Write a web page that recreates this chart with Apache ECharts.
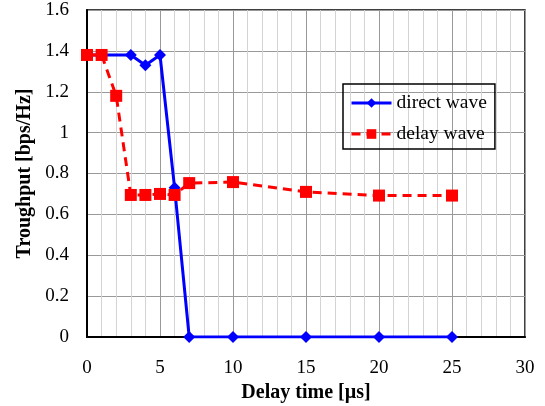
<!DOCTYPE html>
<html><head><meta charset="utf-8">
<script src="https://cdn.jsdelivr.net/npm/echarts@6/dist/echarts.min.js"></script>
<style>html,body{margin:0;padding:0;background:#fff}#c{width:545px;height:406px}</style>
</head><body><div id="c"></div>
<script>
var directX = [0, 1, 3, 4, 5, 6, 7, 10, 15, 20, 25];
var directY = [1.38, 1.38, 1.38, 1.33, 1.38, 0.73, 0, 0, 0, 0, 0];
var delayX = [0, 1, 2, 3, 4, 5, 6, 7, 10, 15, 20, 25];
var delayY = [1.38, 1.38, 1.18, 0.695, 0.695, 0.70, 0.695, 0.753, 0.758, 0.71, 0.692, 0.692];
var seriesNames = ['direct wave', 'delay wave'];

function pairs(xs, ys) { return xs.map(function (x, i) { return [x, ys[i]]; }); }
var font = 'Liberation Serif';
var chart = echarts.init(document.getElementById('c'));
chart.setOption({
  animation: false,
  grid: { left: 87, right: 20, top: 10, bottom: 69, outerBoundsMode: 'none', containLabel: false,
          show: true, borderColor: '#000', borderWidth: 1.5, backgroundColor: 'transparent' },
  legend: {
    left: 343, top: 84, orient: 'vertical', itemGap: 11,
    borderColor: '#000', borderWidth: 1.5, padding: [9, 8, 5, 7],
    itemWidth: 40, itemHeight: 12,
    lineStyle: { width: 3 },
    textStyle: { fontFamily: font, fontSize: 19.5, color: '#000' },
    data: seriesNames
  },
  xAxis: {
    type: 'value', min: 0, max: 30, interval: 5,
    name: 'Delay time [µs]', nameLocation: 'middle', nameGap: 38,
    nameTextStyle: { fontFamily: font, fontSize: 20, fontWeight: 'bold', color: '#000' },
    axisLine: { show: true, lineStyle: { color: '#000', width: 2 } },
    axisTick: { show: false },
    axisLabel: { fontFamily: font, fontSize: 19, color: '#000', margin: 22 },
    splitLine: { show: true, lineStyle: { color: '#999', width: 1 } },
    minorTick: { show: false, splitNumber: 5 },
    minorSplitLine: { show: true, lineStyle: { color: '#d4d4d4', width: 1 } }
  },
  yAxis: {
    type: 'value', min: 0, max: 1.6, interval: 0.2,
    name: 'Troughput [bps/Hz]', nameLocation: 'middle', nameGap: 51,
    nameTextStyle: { fontFamily: font, fontSize: 20, fontWeight: 'bold', color: '#000' },
    axisLine: { show: true, lineStyle: { color: '#000', width: 2 } },
    axisTick: { show: false },
    axisLabel: { fontFamily: font, fontSize: 19, color: '#000', margin: 18 },
    splitLine: { show: true, lineStyle: { color: '#999', width: 1 } }
  },
  series: [
    {
      name: seriesNames[0], type: 'line', data: pairs(directX, directY),
      symbol: 'diamond', symbolSize: 12,
      lineStyle: { color: '#0000ff', width: 3 },
      itemStyle: { color: '#0000ff' }, z: 2
    },
    {
      name: seriesNames[1], type: 'line', data: pairs(delayX, delayY),
      symbol: 'rect', symbolSize: 12,
      lineStyle: { color: '#ff0000', width: 3, type: [9, 6] },
      itemStyle: { color: '#ff0000' }, z: 3
    }
  ]
});
</script></body></html>
